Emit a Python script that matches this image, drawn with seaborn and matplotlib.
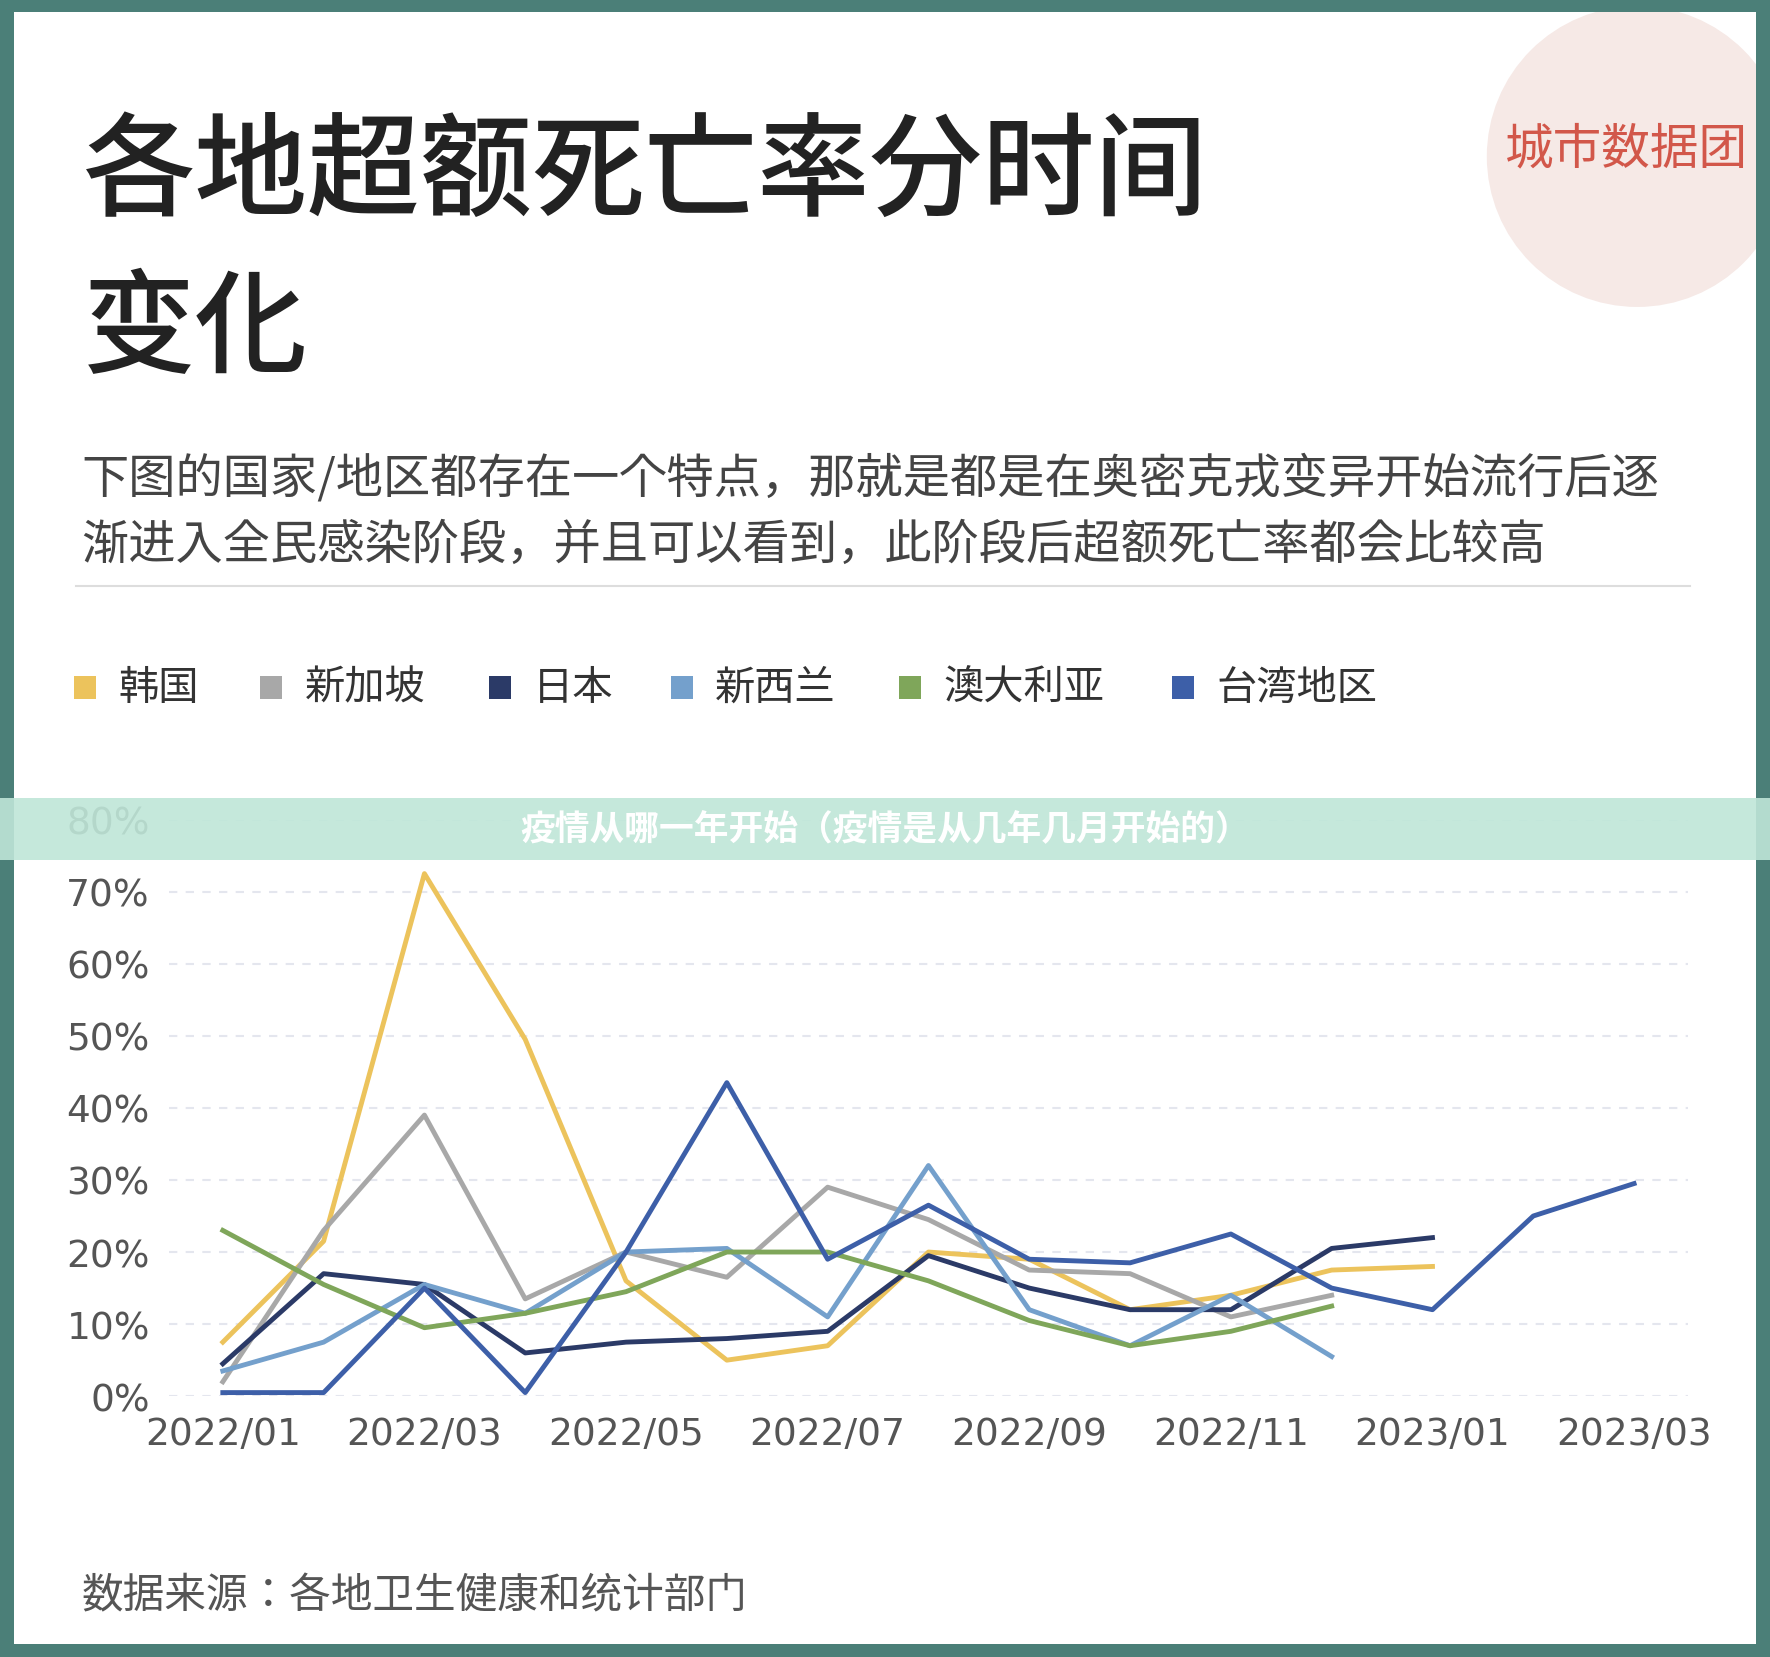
import matplotlib
matplotlib.use("Agg")
import matplotlib.pyplot as plt
import matplotlib.patches as mpatches
from matplotlib import font_manager
import seaborn as sns
import pandas as pd

months = ["2022/01","2022/02","2022/03","2022/04","2022/05","2022/06","2022/07","2022/08",
          "2022/09","2022/10","2022/11","2022/12","2023/01","2023/02","2023/03"]
tick_labels = ["2022/01","2022/03","2022/05","2022/07","2022/09","2022/11","2023/01","2023/03"]
korea     = [7.5, 21.5, 72.5, 49.5, 16, 5, 7, 20, 19, 12, 14, 17.5, 18]
singapore = [2, 23, 39, 13.5, 20, 16.5, 29, 24.5, 17.5, 17, 11, 14]
japan     = [4.5, 17, 15.5, 6, 7.5, 8, 9, 19.5, 15, 12, 12, 20.5, 22]
nz        = [3.5, 7.5, 15.5, 11.5, 20, 20.5, 11, 32, 12, 7, 14, 5.5]
australia = [23, 15.5, 9.5, 11.5, 14.5, 20, 20, 16, 10.5, 7, 9, 12.5]
taiwan    = [0.5, 0.5, 15, 0.5, 20, 43.5, 19, 26.5, 19, 18.5, 22.5, 15, 12, 25, 29.5]

names = ["韩国", "新加坡", "日本", "新西兰", "澳大利亚", "台湾地区"]
series = [korea, singapore, japan, nz, australia, taiwan]
colors = ["#ecc35c", "#a8a8a8", "#2b3a67", "#74a0cc", "#7fa65a", "#3d5fa8"]

rows = []
for n, s in zip(names, series):
    for i, v in enumerate(s):
        rows.append({"idx": i, "val": v, "name": n})
df = pd.DataFrame(rows)

avail = {f.name for f in font_manager.fontManager.ttflist}
cjk = [n for n in ["Noto Sans CJK SC", "Noto Sans CJK JP", "Noto Sans CJK TC", "Noto Sans CJK KR"] if n in avail]
plt.rcParams["font.family"] = "sans-serif"
plt.rcParams["font.sans-serif"] = cjk + ["DejaVu Sans"]

fig = plt.figure(figsize=(17.7, 16.58), dpi=100)
fig.patch.set_facecolor("#4b7f78")
fig.add_artist(mpatches.Rectangle((0.008, 0.008), 0.984, 0.984, transform=fig.transFigure,
                                  facecolor="white", edgecolor="none", zorder=0))
ar = 17.7 / 16.58
wm = mpatches.Ellipse((0.925, 0.905), 0.17, 0.17 * ar, transform=fig.transFigure,
                      facecolor="#f6e9e6", edgecolor="none", zorder=1)
fig.add_artist(wm)
fig.add_artist(mpatches.Rectangle((0.992, 0.7), 0.01, 0.3, transform=fig.transFigure,
                                  facecolor="#4b7f78", edgecolor="none", zorder=2))
fig.add_artist(mpatches.Rectangle((0.8, 0.992), 0.2, 0.01, transform=fig.transFigure,
                                  facecolor="#4b7f78", edgecolor="none", zorder=2))
fig.text(0.919, 0.91, "城市数据团", color="#d2574a", fontsize=35, ha="center", va="center", zorder=3)

fig.text(0.047, 0.895, "各地超额死亡率分时间", fontsize=81, color="#222222", va="center", fontweight="medium")
fig.text(0.047, 0.80, "变化", fontsize=81, color="#222222", va="center", fontweight="medium")
fig.text(0.046, 0.711, "下图的国家/地区都存在一个特点，那就是都是在奥密克戎变异开始流行后逐",
         fontsize=34, color="#444444", va="center")
fig.text(0.046, 0.671, "渐进入全民感染阶段，并且可以看到，此阶段后超额死亡率都会比较高",
         fontsize=34, color="#444444", va="center")
fig.add_artist(plt.Line2D([0.043, 0.955], [0.646, 0.646], transform=fig.transFigure,
                          color="#dddddd", lw=1.5))
lx = [0.042, 0.147, 0.276, 0.379, 0.508, 0.662]
for x, n, c in zip(lx, names, colors):
    fig.add_artist(mpatches.Rectangle((x, 0.578), 0.0125, 0.0135, transform=fig.transFigure,
                                      facecolor=c, edgecolor="none"))
    fig.text(x + 0.025, 0.585, n, fontsize=29, color="#333333", va="center")

ax = fig.add_axes([0.0957, 0.1573, 0.8577, 0.3478])
sns.lineplot(data=df, x="idx", y="val", hue="name", palette=dict(zip(names, colors)),
             linewidth=3.5, legend=False, ax=ax, sort=False)
ax.set_xlim(-0.53, 14.53)
ax.set_ylim(0, 80)
ax.set_xticks(range(0, 15, 2))
ax.set_xticklabels(tick_labels)
ax.set_yticks(range(0, 81, 10))
ax.set_yticklabels([f"{v}%" for v in range(0, 81, 10)])
ax.grid(axis="y", color="#e4e6ee", linestyle=(0, (4, 4)), lw=1.5)
ax.set_axisbelow(True)
for s in ax.spines.values():
    s.set_visible(False)
ax.tick_params(length=0, labelsize=27, colors="#555555", pad=14)
for t in ax.get_xticklabels() + ax.get_yticklabels():
    t.set_fontfamily("DejaVu Sans")
ax.set_xlabel(""); ax.set_ylabel("")
ax.set_facecolor("none")

fig.text(0.046, 0.037, "数据来源：各地卫生健康和统计部门", fontsize=30, color="#555555", va="center")

fig.add_artist(mpatches.Rectangle((0.0, 0.481), 1.0, 0.037, transform=fig.transFigure,
                                  facecolor="#bfe6d8", edgecolor="none", alpha=0.9, zorder=10))
fig.text(0.5, 0.4995, "疫情从哪一年开始（疫情是从几年几月开始的）", fontsize=25, color="white",
         fontweight="bold", ha="center", va="center", zorder=11)

fig.savefig("out.png", dpi=100, facecolor=fig.get_facecolor())
